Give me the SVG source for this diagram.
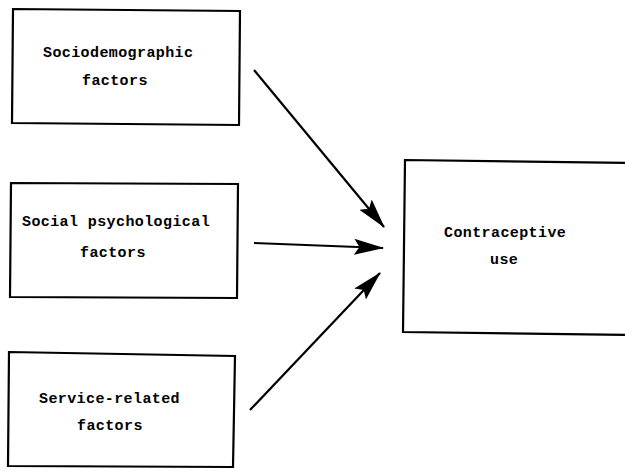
<svg xmlns="http://www.w3.org/2000/svg" width="625" height="472" viewBox="0 0 625 472">
<style>
.box{fill:#fff;stroke:#000;stroke-width:2.2}
.t{font-family:"Liberation Mono","DejaVu Sans Mono",monospace;font-weight:bold;font-size:15px;letter-spacing:0.4px;fill:#000}
.c{stroke:#000;stroke-width:2.2;fill:none;marker-end:url(#ah)}
</style>
<defs>
<marker id="ah" markerUnits="userSpaceOnUse" markerWidth="30" markerHeight="20" viewBox="0 0 28 16" refX="27" refY="8" orient="auto">
<path d="M0,0.5 L28,8 L0,15.5 L5,8 Z" fill="#000"/>
</marker>
</defs>
<rect width="625" height="472" fill="#fff"/>
<g id="sociodemographic">
<path class="box" d="M13,9 L240,11 L239,125 L12,123 Z"/>
<text class="t" x="43" y="57">Sociodemographic</text>
<text class="t" x="82" y="85">factors</text>
</g>
<g id="social-psychological">
<path class="box" d="M11,183 L238,184 L237,298 L10,297 Z"/>
<text class="t" x="22" y="226">Social psychological</text>
<text class="t" x="80" y="257">factors</text>
</g>
<g id="service-related">
<path class="box" d="M9,352 L235,356 L233,467 L8,466 Z"/>
<text class="t" x="39" y="403">Service-related</text>
<text class="t" x="77" y="430">factors</text>
</g>
<g id="contraceptive-use">
<path class="box" d="M405,160 L628,163 L628,335 L403,332 Z"/>
<text class="t" x="444" y="237">Contraceptive</text>
<text class="t" x="490" y="264">use</text>
</g>
<g id="connectors">
<line class="c" x1="254" y1="70" x2="384" y2="227"/>
<line class="c" x1="254" y1="243" x2="383" y2="248"/>
<line class="c" x1="250" y1="410" x2="380" y2="273"/>
</g>
</svg>
